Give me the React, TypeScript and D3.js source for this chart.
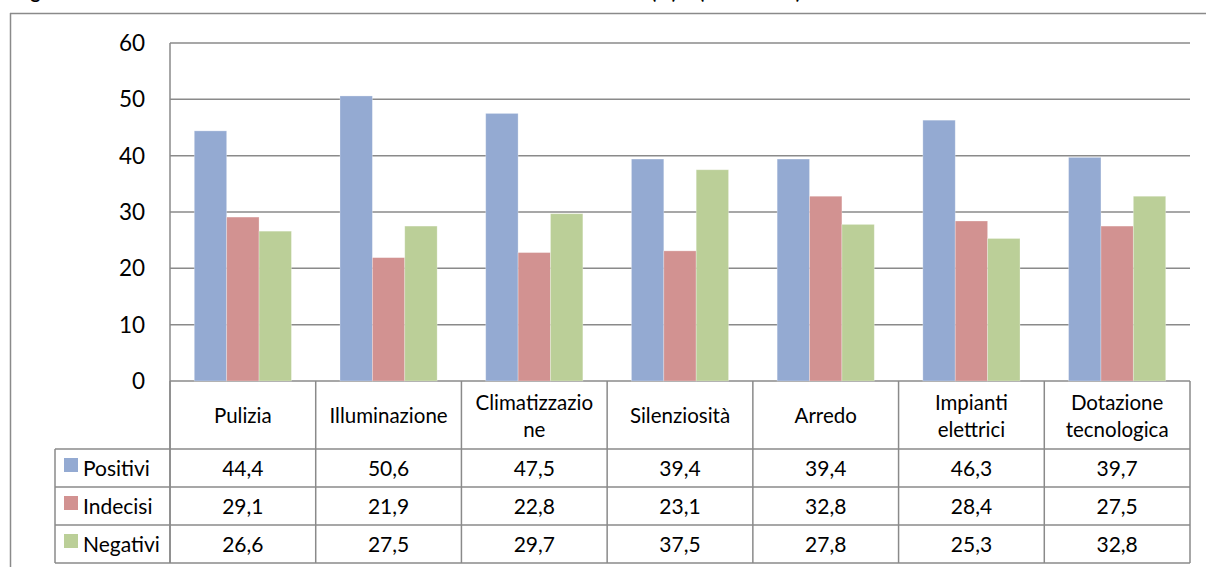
import React from "react";
import * as d3 from "d3";

// Categories shown on the x axis / table header (line breaks as in the table)
const categories = [
  "Pulizia",
  "Illuminazione",
  "Climatizzazione",
  "Silenziosità",
  "Arredo",
  "Impianti elettrici",
  "Dotazione tecnologica",
];
const categoryLines: string[][] = [
  ["Pulizia"],
  ["Illuminazione"],
  ["Climatizzazio", "ne"],
  ["Silenziosità"],
  ["Arredo"],
  ["Impianti", "elettrici"],
  ["Dotazione", "tecnologica"],
];

const seriesNames = ["Positivi", "Indecisi", "Negativi"];
const positivi = [44.4, 50.6, 47.5, 39.4, 39.4, 46.3, 39.7];
const indecisi = [29.1, 21.9, 22.8, 23.1, 32.8, 28.4, 27.5];
const negativi = [26.6, 27.5, 29.7, 37.5, 27.8, 25.3, 32.8];
const seriesValues = [positivi, indecisi, negativi];
const seriesColors = ["#94AAD2", "#D29291", "#BBCF98"];

const yTicks = [0, 10, 20, 30, 40, 50, 60];

const W = 1206;
const H = 567;
const FONT = "Lato, 'Noto Sans', sans-serif";
const LINE = "#8a8a8a";

const plotLeft = 170;
const plotRight = 1190;
const plotTop = 43;
const plotBottom = 381;
const headerBottom = 449;
const rowH = 38;
const legendLeft = 55;

const fmt = (v: number) => v.toFixed(1).replace(".", ",");

export default function App() {
  const x = d3.scaleBand<string>().domain(categories).range([plotLeft, plotRight]).padding(0);
  const xs = d3
    .scaleBand<string>()
    .domain(seriesNames)
    .range([0, x.bandwidth()])
    .paddingInner(0)
    .paddingOuter(0.75);
  const y = d3.scaleLinear().domain([0, 60]).range([plotBottom, plotTop]);

  const rowTop = (i: number) => headerBottom + i * rowH;
  const tableBottom = rowTop(seriesNames.length);
  const bounds = [...categories.map((c) => x(c)!), plotRight];

  return (
    <svg
      width={W}
      height={H}
      viewBox={`0 0 ${W} ${H}`}
      style={{ position: "absolute", left: 0, top: 0, display: "block", background: "#fff" }}
      fontFamily={FONT}
    >
      {/* title, running above the frame */}
      <text y={-1} fontSize={19} fontWeight="bold" fill="#000">
        <tspan x={15}>Figura 4 – Valutazione delle strutture della sede</tspan>
        <tspan x={651}>(%)</tspan>
        <tspan x={699} textLength={102} lengthAdjust="spacing">(a.a. 2012-13)</tspan>
      </text>

      {/* outer chart frame */}
      <line x1={10.5} x2={10.5} y1={13} y2={H} stroke={LINE} strokeWidth={1.5} />
      <line x1={10} x2={W} y1={13.5} y2={13.5} stroke={LINE} strokeWidth={1.5} />

      {/* gridlines */}
      {yTicks.map((t) => (
        <line
          key={t}
          x1={plotLeft}
          x2={plotRight}
          y1={y(t)}
          y2={y(t)}
          stroke={LINE}
          strokeWidth={1.5}
        />
      ))}
      <line x1={plotLeft} x2={plotLeft} y1={plotTop} y2={tableBottom} stroke={LINE} strokeWidth={1.5} />

      {/* y tick labels */}
      {yTicks.map((t) => (
        <text
          key={t}
          x={145}
          y={y(t)}
          dy="0.36em"
          textAnchor="end"
          fontSize={22.5}
          fill="#000"
        >
          {t}
        </text>
      ))}

      {/* bars */}
      {seriesNames.map((s, si) =>
        categories.map((c, ci) => {
          const v = seriesValues[si][ci];
          return (
            <rect
              key={s + c}
              x={x(c)! + xs(s)!}
              y={y(v)}
              width={xs.bandwidth()}
              height={y(0) - y(v)}
              fill={seriesColors[si]}
              stroke="#ffffff"
              strokeOpacity={0.35}
              strokeWidth={0.8}
            />
          );
        })
      )}

      {/* data table grid */}
      {bounds.map((bx, i) => (
        <line key={"v" + i} x1={bx} x2={bx} y1={plotBottom} y2={tableBottom} stroke={LINE} strokeWidth={1.5} />
      ))}
      <line x1={legendLeft} x2={legendLeft} y1={headerBottom} y2={tableBottom} stroke={LINE} strokeWidth={1.5} />
      {[0, 1, 2, 3].map((i) => (
        <line
          key={"h" + i}
          x1={legendLeft}
          x2={plotRight}
          y1={rowTop(i)}
          y2={rowTop(i)}
          stroke={LINE}
          strokeWidth={1.5}
        />
      ))}

      {/* category header */}
      {categories.map((c, ci) => {
        const lines = categoryLines[ci];
        const cx = x(c)! + x.bandwidth() / 2;
        const base = lines.length === 1 ? 423 : 410;
        return (
          <text key={c} textAnchor="middle" fontSize={20.5} fill="#000">
            {lines.map((ln, li) => (
              <tspan key={li} x={cx} y={base + li * 27}>
                {ln}
              </tspan>
            ))}
          </text>
        );
      })}

      {/* legend keys and values */}
      {seriesNames.map((s, si) => {
        const cy = rowTop(si) + rowH / 2;
        return (
          <g key={s}>
            <rect x={64} y={cy - 10} width={14} height={14} fill={seriesColors[si]} />
            <text x={83} y={cy} dy="0.36em" fontSize={21} fill="#000">
              {s}
            </text>
            {categories.map((c, ci) => (
              <text
                key={c}
                x={x(c)! + x.bandwidth() / 2}
                y={cy}
                dy="0.36em"
                textAnchor="middle"
                fontSize={21}
                fill="#000"
              >
                {fmt(seriesValues[si][ci])}
              </text>
            ))}
          </g>
        );
      })}
    </svg>
  );
}
